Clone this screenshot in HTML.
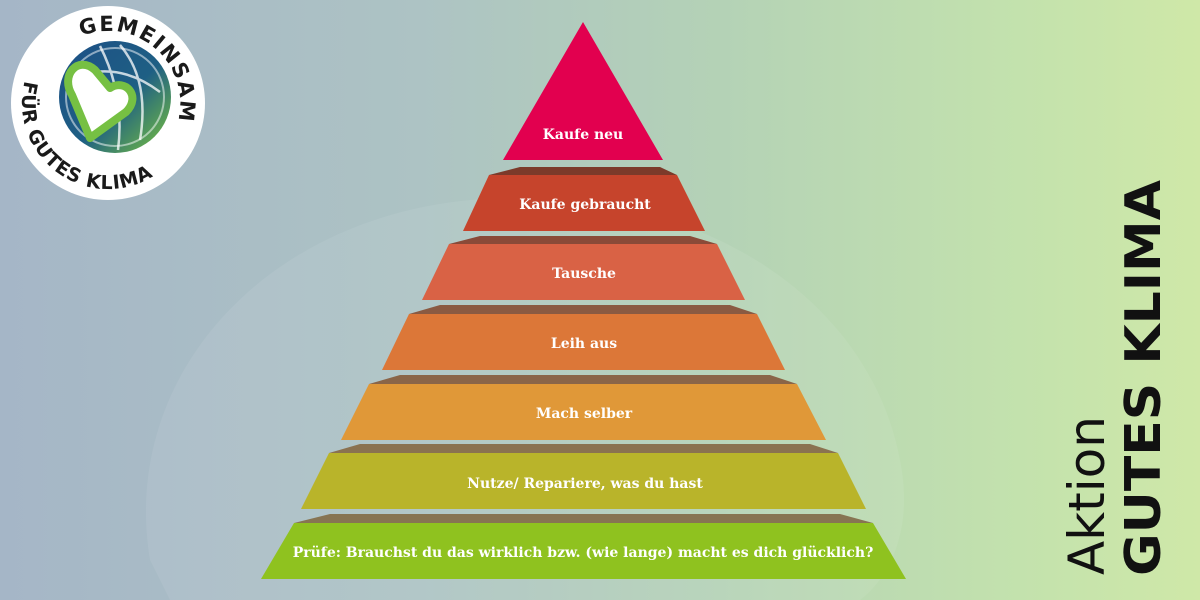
<!DOCTYPE html>
<html><head><meta charset="utf-8"><style>
html,body{margin:0;padding:0;}
body{width:1200px;height:600px;overflow:hidden;background:linear-gradient(90deg,#a5b6c7 0%,#adc3c4 35%,#b4d2b6 60%,#c3e2ad 85%,#cfe8a8 100%);position:relative;font-family:"Liberation Sans",sans-serif;}
svg{position:absolute;left:0;top:0;}
.lbl{font-family:"DejaVu Serif","Liberation Serif",serif;font-weight:bold;font-size:14px;fill:#fff;text-anchor:middle;}
</style></head><body>
<svg width="1200" height="600" viewBox="0 0 1200 600">
<defs>
<linearGradient id="glb" x1="0" y1="0" x2="1" y2="1"><stop offset="0" stop-color="#1d4f86"/><stop offset="0.55" stop-color="#1e5f84"/><stop offset="1" stop-color="#7cc63a"/></linearGradient>
<path id="arcTop" d="M 77.6 37.7 A 72 72 0 0 1 175.7 127.6"/>
<path id="arcBot" d="M 24.9 80.7 A 86 86 0 0 0 157.3 173.4"/>
</defs>
<path d="M150 560 C120 380 260 220 470 200 C700 180 870 300 900 460 C920 560 860 600 860 600 L170 600 Z" fill="#ffffff" opacity="0.07"/>

<polygon points="583,22 663,160 503,160" fill="#e2004f"/>
<polygon points="520,167 660,167 677,175 489,175" fill="#7c3a2a"/>
<polygon points="489,175 677,175 705,231 463,231" fill="#c6442c"/>
<polygon points="480,236 690,236 717,244 449,244" fill="#8a4a38"/>
<polygon points="449,244 717,244 745,300 422,300" fill="#d96245"/>
<polygon points="440,305 730,305 757,314 409,314" fill="#8a5a42"/>
<polygon points="409,314 757,314 785,370 382,370" fill="#dc7738"/>
<polygon points="400,375 770,375 797,384 369,384" fill="#8a6548"/>
<polygon points="369,384 797,384 826,440 341,440" fill="#e09838"/>
<polygon points="360,444 810,444 838,453 329,453" fill="#8a7250"/>
<polygon points="329,453 838,453 866,509 301,509" fill="#b9b42a"/>
<polygon points="330,514 840,514 873,523 294,523" fill="#877452"/>
<polygon points="294,523 873,523 906,579 261,579" fill="#8fc21f"/>

<text class="lbl" x="583" y="139">Kaufe neu</text>
<text class="lbl" x="585" y="209">Kaufe gebraucht</text>
<text class="lbl" x="584" y="278">Tausche</text>
<text class="lbl" x="584" y="348">Leih aus</text>
<text class="lbl" x="584" y="418">Mach selber</text>
<text class="lbl" x="585" y="488">Nutze/ Repariere, was du hast</text>
<text class="lbl" x="583" y="557">Prüfe: Brauchst du das wirklich bzw. (wie lange) macht es dich glücklich?</text>

<text transform="translate(1104,575) rotate(-90)" font-family="DejaVu Sans,sans-serif" font-size="50" fill="#111">Aktion</text>
<text transform="translate(1160,576) rotate(-90)" font-family="DejaVu Sans,sans-serif" font-weight="bold" font-size="49" fill="#111" textLength="396" lengthAdjust="spacingAndGlyphs">GUTES KLIMA</text>

<circle cx="108" cy="103" r="97" fill="#ffffff"/>
<circle cx="115" cy="97" r="56" fill="url(#glb)"/>
<circle cx="115" cy="97" r="49" fill="none" stroke="#ffffff" stroke-width="2" opacity="0.5"/>
<path d="M68 80 Q115 58 160 92 M100 46 Q125 95 118 150 M120 45 Q150 80 140 140" stroke="#fff" stroke-width="2.5" fill="none" opacity="0.75"/>
<path d="M95 70 C78 55 60 75 72 95 L90 138 L126 112 C142 96 125 78 110 88 Z" fill="#ffffff" stroke="#76c043" stroke-width="8" stroke-linejoin="round"/>
<text font-family="DejaVu Sans,sans-serif" font-weight="bold" font-size="21" fill="#1a1a1a"><textPath href="#arcTop" startOffset="4" textLength="158" lengthAdjust="spacing">GEMEINSAM</textPath></text>
<text font-family="DejaVu Sans,sans-serif" font-weight="bold" font-size="19" fill="#1a1a1a"><textPath href="#arcBot" textLength="205" lengthAdjust="spacing">FÜR GUTES KLIMA</textPath></text>
</svg>
</body></html>
